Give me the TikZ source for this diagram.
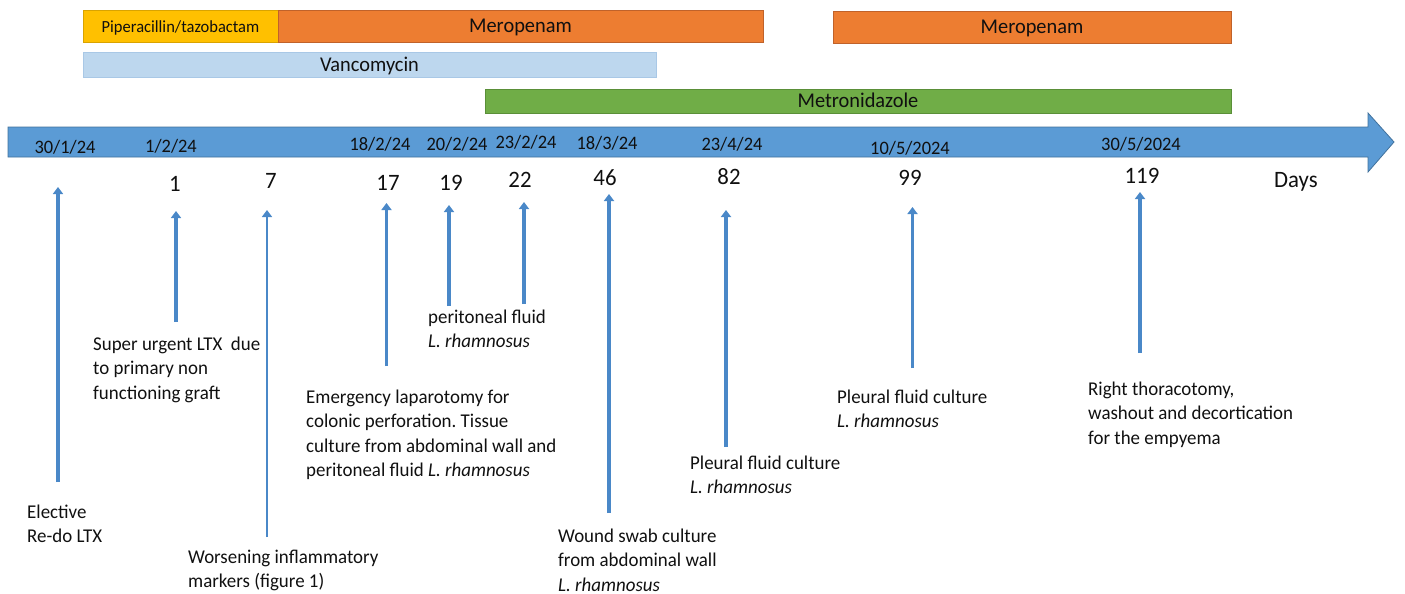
\documentclass[tikz,border=0pt]{standalone}
\usepackage{fontspec}
\setmainfont{Carlito}[FakeStretch=0.97]
\usetikzlibrary{arrows.meta}
\frenchspacing
\definecolor{ablue}{HTML}{5B9BD5}
\definecolor{abluedark}{HTML}{41719C}
\definecolor{evblue}{HTML}{4A88C8}
\definecolor{pipc}{HTML}{FFC000}
\definecolor{pipd}{HTML}{D9A300}
\definecolor{meroc}{HTML}{ED7D31}
\definecolor{merod}{HTML}{C0622A}
\definecolor{vancc}{HTML}{BDD7EE}
\definecolor{vancd}{HTML}{A9C8E6}
\definecolor{metroc}{HTML}{70AD47}
\definecolor{metrod}{HTML}{5A8F38}
\definecolor{txt}{HTML}{101010}
\newcommand{\evlines}[1]{\begin{tabular}[t]{@{}l@{}}#1\end{tabular}}
\begin{document}
\begin{tikzpicture}[x=1pt,y=-1pt,
  bar/.style={draw, line width=0.8pt, inner sep=0pt, text height=13pt, text depth=0pt, text=txt, font=\fontsize{21}{24}\selectfont},
  datelbl/.style={anchor=base, inner sep=0pt, text=txt, font=\fontsize{19}{23}\selectfont},
  daylbl/.style={anchor=base, inner sep=0pt, text=txt, font=\fontsize{23.5}{28}\selectfont},
  evtext/.style={anchor=base west, inner sep=0pt, text=txt, font=\fontsize{19.5}{24.6}\selectfont},
  evarrow/.style={draw=evblue, line width=3.5pt, -{Triangle[width=10pt,length=7pt]}},
  evarrowthin/.style={evarrow, line width=2.8pt}
]
\useasboundingbox (0,0) rectangle (1405,594);

% antibiotic bars
\node[bar, fill=pipc, draw=pipd, minimum width=195pt, minimum height=32pt, font=\fontsize{17}{20}\selectfont] (pip) at (180.5,26) {Piperacillin/tazobactam};
\node[bar, fill=meroc, draw=merod, minimum width=485pt, minimum height=32pt] (mero1) at (520.5,26) {Meropenam};
\node[bar, fill=meroc, draw=merod, minimum width=398pt, minimum height=32pt] (mero2) at (1032,27) {Meropenam};
\node[bar, fill=vancc, draw=vancd, minimum width=573pt, minimum height=25pt] (vanc) at (369.5,65) {Vancomycin};
\node[bar, fill=metroc, draw=metrod, minimum width=746pt, minimum height=24pt] (metro) at (858,101) {Metronidazole};

% timeline arrow
\draw[fill=ablue, draw=abluedark, line width=0.8pt] (8,127) -- (1368,127) -- (1368,113) -- (1394,142) -- (1368,172) -- (1368,157) -- (8,157) -- cycle;

% dates
\node[datelbl] (d1) at (65,153) {30/1/24};
\node[datelbl] (d2) at (171,152) {1/2/24};
\node[datelbl] (d3) at (380,150) {18/2/24};
\node[datelbl] (d4) at (457,150) {20/2/24};
\node[datelbl] (d5) at (526,148) {23/2/24};
\node[datelbl] (d6) at (607,149) {18/3/24};
\node[datelbl] (d7) at (732,150) {23/4/24};
\node[datelbl] (d8) at (910,154) {10/5/2024};
\node[datelbl] (d9) at (1141,150) {30/5/2024};

% day numbers
\node[daylbl] (n1) at (175,191) {1};
\node[daylbl] (n2) at (271,188) {7};
\node[daylbl] (n3) at (388,190) {17};
\node[daylbl] (n4) at (451,190) {19};
\node[daylbl] (n5) at (520,187) {22};
\node[daylbl] (n6) at (605,185) {46};
\node[daylbl] (n7) at (729,184) {82};
\node[daylbl] (n8) at (910,185) {99};
\node[daylbl] (n9) at (1142,183) {119};
\node[daylbl, anchor=base west] (ndays) at (1274,187) {Days};

% event arrows
\coordinate (a1s) at (58,482);  \coordinate (a1e) at (58,187);
\coordinate (a2s) at (176,322); \coordinate (a2e) at (176,211);
\coordinate (a3s) at (267,537); \coordinate (a3e) at (267,210);
\coordinate (a4s) at (386.5,366); \coordinate (a4e) at (386.5,203);
\coordinate (a5s) at (449,306); \coordinate (a5e) at (449,205);
\coordinate (a6s) at (524,304); \coordinate (a6e) at (524,202);
\coordinate (a7s) at (609,513); \coordinate (a7e) at (609,194);
\coordinate (a8s) at (726,447); \coordinate (a8e) at (726,210);
\coordinate (a9s) at (912.5,368); \coordinate (a9e) at (912.5,207);
\coordinate (a10s) at (1140,353); \coordinate (a10e) at (1140,192);
\draw[evarrow] (a1s) -- (a1e);
\draw[evarrow] (a2s) -- (a2e);
\draw[evarrowthin] (a3s) -- (a3e);
\draw[evarrow] (a4s) -- (a4e);
\draw[evarrow] (a5s) -- (a5e);
\draw[evarrow] (a6s) -- (a6e);
\draw[evarrow] (a7s) -- (a7e);
\draw[evarrow] (a8s) -- (a8e);
\draw[evarrowthin] (a9s) -- (a9e);
\draw[evarrow] (a10s) -- (a10e);

% event texts
\node[evtext] (t1) at (27,518) {\evlines{Elective\\Re-do LTX}};
\node[evtext] (t2) at (93,350) {\evlines{Super urgent LTX\ \ due\\to primary non\\functioning graft}};
\node[evtext] (t3) at (188,563) {\evlines{Worsening inflammatory\\markers (figure 1)}};
\node[evtext] (t4) at (306,403) {\evlines{Emergency laparotomy for\\colonic perforation. Tissue\\culture from abdominal wall and\\peritoneal fluid \textit{L. rhamnosus}}};
\node[evtext] (t5) at (428,323) {\evlines{peritoneal fluid\\\textit{L. rhamnosus}}};
\node[evtext] (t6) at (558,542) {\evlines{Wound swab culture\\from abdominal wall\\\textit{L. rhamnosus}}};
\node[evtext] (t7) at (690,469) {\evlines{Pleural fluid culture\\\textit{L. rhamnosus}}};
\node[evtext] (t8) at (837,403) {\evlines{Pleural fluid culture\\\textit{L. rhamnosus}}};
\node[evtext] (t9) at (1088,395) {\evlines{Right thoracotomy,\\washout and decortication\\for the empyema}};
\end{tikzpicture}
\end{document}
